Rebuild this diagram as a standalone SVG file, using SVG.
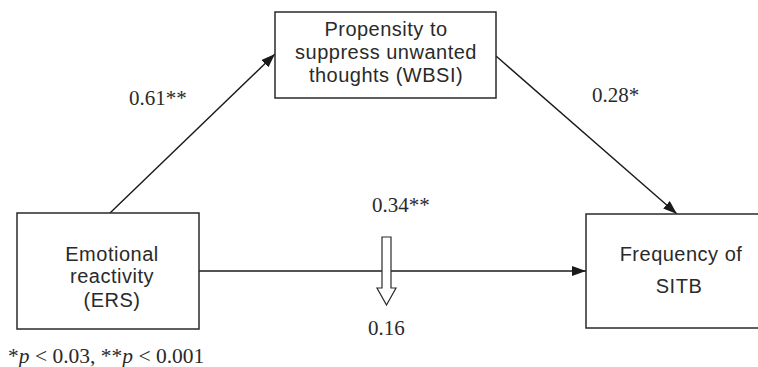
<svg xmlns="http://www.w3.org/2000/svg" width="758" height="367" viewBox="0 0 758 367">
<style>
.box{fill:#fff;stroke:#2a2a2a;stroke-width:1.5}
.lbl{font-family:"Liberation Sans",Arial,sans-serif;font-size:20px;fill:#2a2a2a;text-anchor:middle;letter-spacing:0.5px}
.num{font-family:"Liberation Serif","Times New Roman",serif;font-size:21px;fill:#2a2a2a}
.edge{stroke:#1a1a1a;stroke-width:1.4;fill:none}
</style>
<defs>
<marker id="ah" viewBox="0 0 14 10" refX="14" refY="5" markerWidth="14" markerHeight="10" markerUnits="userSpaceOnUse" orient="auto">
<path d="M0,0 L14,5 L0,10 Z" fill="#1a1a1a"/>
</marker>
</defs>
<rect width="758" height="367" fill="#fff"/>
<g id="connectors">
<line class="edge" x1="110" y1="213" x2="275" y2="54" marker-end="url(#ah)"/>
<line class="edge" x1="496" y1="56" x2="677" y2="214" marker-end="url(#ah)"/>
<line class="edge" x1="199" y1="271" x2="586" y2="271" marker-end="url(#ah)"/>
</g>
<g id="node-wbsi">
<rect class="box" x="275" y="12" width="221" height="86"/>
<text class="lbl" x="386" y="36">Propensity to</text>
<text class="lbl" x="386" y="59">suppress unwanted</text>
<text class="lbl" x="386" y="82">thoughts (WBSI)</text>
</g>
<g id="node-ers">
<rect class="box" x="17" y="213" width="182" height="116"/>
<text class="lbl" x="112" y="261">Emotional</text>
<text class="lbl" x="112" y="283">reactivity</text>
<text class="lbl" x="112" y="307">(ERS)</text>
</g>
<g id="node-sitb">
<rect class="box" x="586" y="214" width="175" height="114"/>
<text class="lbl" x="681" y="261">Frequency of</text>
<text class="lbl" x="679" y="293">SITB</text>
</g>
<g id="labels">
<text class="num" x="129" y="105">0.61**</text>
<text class="num" x="592" y="102">0.28*</text>
<text class="num" x="372" y="212">0.34**</text>
<text class="num" x="368" y="335">0.16</text>
<path d="M382,237 L391,237 L391,288 L396,288 L386.5,305 L377,288 L382,288 Z" fill="#fff" stroke="#2a2a2a" stroke-width="1.2"/>
<text class="num" x="8" y="363" style="font-size:21.5px">*<tspan font-style="italic">p</tspan> &lt; 0.03, **<tspan font-style="italic">p</tspan> &lt; 0.001</text>
</g>
</svg>
